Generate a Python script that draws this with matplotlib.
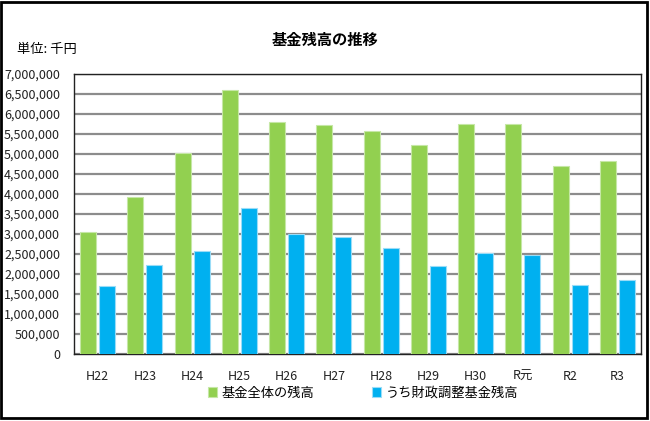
import matplotlib
matplotlib.use("Agg")
import matplotlib.pyplot as plt
from matplotlib.patches import Rectangle
from matplotlib.ticker import FuncFormatter, MultipleLocator
import numpy as np

plt.rcParams['font.family'] = ['Noto Sans CJK JP', 'DejaVu Sans']

categories = ["H22", "H23", "H24", "H25", "H26", "H27", "H28", "H29", "H30", "R元", "R2", "R3"]
total_fund = [3040000, 3925000, 5025000, 6600000, 5790000, 5715000, 5565000, 5215000, 5750000, 5750000, 4690000, 4825000]
adjust_fund = [1690000, 2220000, 2575000, 3640000, 2990000, 2925000, 2640000, 2200000, 2515000, 2480000, 1725000, 1860000]
series_names = ["基金全体の残高", "うち財政調整基金残高"]
title = "基金残高の推移"
unit_label = "単位: 千円"

W, H = 650, 421
fig = plt.figure(figsize=(W / 100, H / 100), dpi=100)
ax = fig.add_axes([74 / W, 1 - 354 / H, (641 - 74) / W, (354 - 74) / H])

x = np.arange(len(categories))
bw = 0.34
b1 = ax.bar(x - 0.2, total_fund, bw, color="#92D050", edgecolor="#C6E7A6", linewidth=0.8,
            label=series_names[0], zorder=3)
b2 = ax.bar(x + 0.2, adjust_fund, bw, color="#00B0F0", edgecolor="#9ADCF7", linewidth=0.8,
            label=series_names[1], zorder=3)

ax.set_xlim(-0.5, len(categories) - 0.5)
ax.set_ylim(0, 7000000)
ax.yaxis.set_major_locator(MultipleLocator(500000))
ax.yaxis.set_major_formatter(FuncFormatter(lambda v, p: f"{int(v):,}"))
ax.grid(axis="y", color="#8C8C8C", linewidth=1.6, zorder=0)
ax.set_axisbelow(True)
ax.set_xticks(x)
ax.set_xticklabels(categories)
ax.tick_params(axis="both", length=0, labelsize=9, colors="#222222")
ax.tick_params(axis="x", pad=11.5)
ax.tick_params(axis="y", pad=10)
for s in ax.spines.values():
    s.set_color("#222222")
    s.set_linewidth(1.0)

fig.text(325 / W, 1 - 40 / H, title, ha="center", va="center", fontsize=11, fontweight="bold")
fig.text(17 / W, 1 - 50 / H, unit_label, ha="left", va="center", fontsize=9.5)

leg = fig.legend(handles=[b1, b2], loc="center", bbox_to_anchor=(363 / W, 1 - 393 / H), ncol=2,
                 frameon=False, fontsize=9.5, handlelength=0.7, handleheight=0.7,
                 handletextpad=0.3, columnspacing=4.4, borderpad=0)

fig.add_artist(Rectangle((1 / W, 3 / H), (W - 4) / W, (H - 5) / H, transform=fig.transFigure,
                         fill=False, edgecolor="#000000", linewidth=2.0))

fig.savefig("out.png", dpi=100)
